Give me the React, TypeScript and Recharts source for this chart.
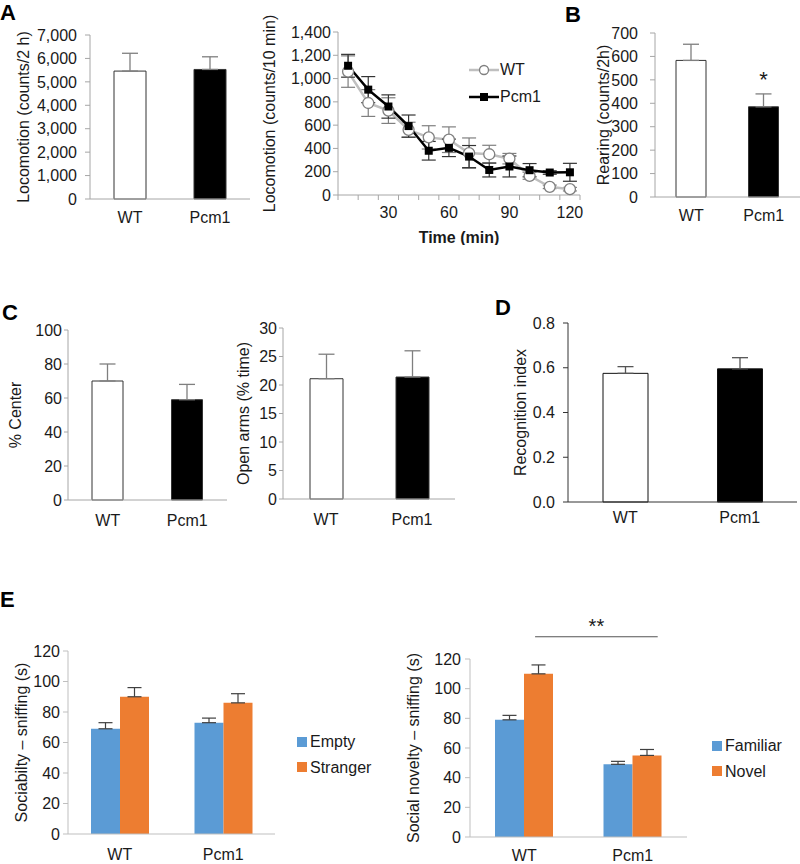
import {
  Bar,
  BarChart,
  Cell,
  ErrorBar,
  LabelList,
  Legend,
  Line,
  LineChart,
  ReferenceLine,
  XAxis,
  YAxis,
} from "recharts";

const FONT = "'Liberation Sans', Arial, Helvetica, sans-serif";
const INK = "#1a1a1a";

const groups = ["WT", "Pcm1"];
const groupFills = ["#ffffff", "#000000"];

// A – total locomotion
const locoTotal = [5460, 5530];
const locoTotalErr = [760, 540];
const locoTotalTicks = [0, 1000, 2000, 3000, 4000, 5000, 6000, 7000];

// A – locomotion per 10 min bin
const minutes = [10, 20, 30, 40, 50, 60, 70, 80, 90, 100, 110, 120];
const locoWT = [1060, 790, 725, 560, 495, 475, 360, 350, 312, 165, 70, 50];
const locoWTErr = [135, 115, 110, 65, 100, 110, 130, 77, 45, 30, 15, 15];
const locoPcm1 = [1110, 905, 760, 592, 380, 405, 330, 215, 245, 213, 193, 195];
const locoPcm1Err = [98, 112, 100, 95, 80, 75, 95, 60, 90, 57, 15, 77];
const minuteBounds = [5, 15, 25, 35, 45, 55, 65, 75, 85, 95, 105, 115, 125];
const minuteLabels = [30, 60, 90, 120];
const locoBinTicks = [0, 200, 400, 600, 800, 1000, 1200, 1400];
const lineSeriesOrder = ["WT", "Pcm1"];

// B – rearing
const rearing = [583, 385];
const rearingErr = [69, 55];
const rearingSig = ["", "*"];
const rearingTicks = [0, 100, 200, 300, 400, 500, 600, 700];

// C – open field centre / elevated plus maze
const centerPct = [70, 59];
const centerPctErr = [10, 9];
const centerTicks = [0, 20, 40, 60, 80, 100];
const openArms = [21.1, 21.4];
const openArmsErr = [4.3, 4.6];
const openArmsTicks = [0, 5, 10, 15, 20, 25, 30];

// D – novel object recognition
const recognition = [0.575, 0.595];
const recognitionErr = [0.03, 0.05];
const recognitionTicks = [0, 0.2, 0.4, 0.6, 0.8];

// E – three chamber test
const sniffTicks = [0, 20, 40, 60, 80, 100, 120];
const emptyCup = [69, 73];
const emptyCupErr = [4, 3];
const stranger = [90, 86];
const strangerErr = [6, 6];
const familiar = [79, 49];
const familiarErr = [3, 2];
const novel = [110, 55];
const novelErr = [6, 4];
const groupSlots = [0.5, 1.5];
const noveltyBracket = [0.6, 1.73];
const noveltyBracketLevel = 135;
const noveltyStars = "**";

const BLUE = "#5b9bd5";
const ORANGE = "#ed7d31";

type Frame = {
  left: number;
  top: number;
  width: number;
  height: number;
  mt: number;
  mr: number;
  yW: number;
  xH: number;
  tickSize: number;
  tickGap: number;
  xGap: number;
  titleX: number;
  axis: string;
};

const thousands = (v: number) => v.toLocaleString("en-US");
const oneDecimal = (v: number) => v.toFixed(1);
const plain = (v: number) => String(v);

function axisTitle(text: string, dx: number) {
  return (props: any) => {
    const vb = props.viewBox || { x: 0, y: 0, height: 0 };
    const x = vb.x + dx;
    const y = vb.y + vb.height / 2;
    return (
      <text
        x={x}
        y={y}
        transform={`rotate(-90 ${x} ${y})`}
        textAnchor="middle"
        dominantBaseline="central"
        fontSize={16}
        fill={INK}
      >
        {text}
      </text>
    );
  };
}

function placed(f: Frame): React.CSSProperties {
  return { position: "absolute", left: f.left, top: f.top };
}

function PanelLetter({ ch, left, top }: { ch: string; left: number; top: number }) {
  return (
    <div
      style={{
        position: "absolute",
        left,
        top,
        fontSize: 22,
        fontWeight: "bold",
        lineHeight: 1,
        color: "#000",
      }}
    >
      {ch}
    </div>
  );
}

interface GroupBarsProps {
  frame: Frame;
  values: number[];
  errors: number[];
  ticks: number[];
  fmt: (v: number) => string;
  title: string;
  barSize: number;
  outline: string;
  errColor: string;
  sig?: string[];
}

function GroupBars({
  frame,
  values,
  errors,
  ticks,
  fmt,
  title,
  barSize,
  outline,
  errColor,
  sig,
}: GroupBarsProps) {
  const rows = groups.map((g, i) => ({
    name: g,
    value: values[i],
    err: [0, errors[i]],
    sig: sig ? sig[i] : "",
  }));

  return (
    <div style={placed(frame)}>
      <BarChart
        width={frame.width}
        height={frame.height}
        data={rows}
        margin={{ top: frame.mt, right: frame.mr, bottom: 0, left: 0 }}
      >
        <XAxis
          dataKey="name"
          height={frame.xH}
          axisLine={{ stroke: frame.axis }}
          tickLine={false}
          tickSize={6}
          tickMargin={frame.xGap}
          tick={{ fill: INK, fontSize: 16 }}
        />
        <YAxis
          width={frame.yW}
          domain={[ticks[0], ticks[ticks.length - 1]]}
          ticks={ticks}
          interval={0}
          tickFormatter={fmt}
          axisLine={{ stroke: frame.axis }}
          tickLine={{ stroke: frame.axis }}
          tickSize={frame.tickSize}
          tickMargin={frame.tickGap}
          tick={{ fill: INK, fontSize: 16 }}
          label={{ content: axisTitle(title, frame.titleX) }}
        />
        <Bar
          dataKey="value"
          barSize={barSize}
          stroke={outline}
          strokeWidth={1}
          isAnimationActive={false}
        >
          {rows.map((r, i) => (
            <Cell key={r.name} fill={groupFills[i]} />
          ))}
          <ErrorBar dataKey="err" width={8} stroke={errColor} strokeWidth={1.3} />
          {sig && (
            <LabelList dataKey="sig" position="top" offset={20} fontSize={22} fill={INK} />
          )}
        </Bar>
      </BarChart>
    </div>
  );
}

function SquareLegend({ payload }: any) {
  return (
    <div style={{ fontSize: 16, color: INK, lineHeight: "25.5px" }}>
      {(payload || []).map((e: any) => (
        <div key={e.value} style={{ display: "flex", alignItems: "center" }}>
          <span
            style={{ width: 10, height: 10, background: e.color, marginRight: 3, display: "inline-block" }}
          />
          <span>{e.value}</span>
        </div>
      ))}
    </div>
  );
}

interface PairedBarsProps {
  frame: Frame;
  names: [string, string];
  first: number[];
  firstErr: number[];
  second: number[];
  secondErr: number[];
  title: string;
  legendAt: { left: number; top: number };
  bracket?: boolean;
}

function PairedBars({
  frame,
  names,
  first,
  firstErr,
  second,
  secondErr,
  title,
  legendAt,
  bracket,
}: PairedBarsProps) {
  const rows = groups.map((g, i) => ({
    name: g,
    slot: groupSlots[i],
    a: first[i],
    aErr: [0, firstErr[i]],
    b: second[i],
    bErr: [0, secondErr[i]],
  }));

  return (
    <div style={placed(frame)}>
      <BarChart
        width={frame.width}
        height={frame.height}
        data={rows}
        barGap={0}
        margin={{ top: frame.mt, right: frame.mr, bottom: 0, left: 0 }}
      >
        <XAxis
          dataKey="name"
          height={frame.xH}
          axisLine={{ stroke: frame.axis }}
          tickLine={false}
          tickSize={6}
          tickMargin={frame.xGap}
          tick={{ fill: INK, fontSize: 16 }}
        />
        {bracket && (
          <XAxis
            xAxisId="pos"
            dataKey="slot"
            type="number"
            domain={[0, 2]}
            allowDataOverflow
            hide
          />
        )}
        <YAxis
          width={frame.yW}
          domain={[0, 120]}
          ticks={sniffTicks}
          interval={0}
          axisLine={{ stroke: frame.axis }}
          tickLine={{ stroke: frame.axis }}
          tickSize={frame.tickSize}
          tickMargin={frame.tickGap}
          tick={{ fill: INK, fontSize: 16 }}
          label={{ content: axisTitle(title, frame.titleX) }}
        />
        <Legend
          layout="vertical"
          align="center"
          verticalAlign="middle"
          wrapperStyle={{ left: legendAt.left, top: legendAt.top, width: "auto" }}
          content={SquareLegend}
        />
        <Bar dataKey="a" name={names[0]} fill={BLUE} barSize={29} isAnimationActive={false}>
          <ErrorBar dataKey="aErr" width={7} stroke="#404040" strokeWidth={1.2} />
        </Bar>
        <Bar dataKey="b" name={names[1]} fill={ORANGE} barSize={29} isAnimationActive={false}>
          <ErrorBar dataKey="bErr" width={7} stroke="#404040" strokeWidth={1.2} />
        </Bar>
        {bracket && (
          <ReferenceLine
            xAxisId="pos"
            segment={[
              { x: noveltyBracket[0], y: noveltyBracketLevel },
              { x: noveltyBracket[1], y: noveltyBracketLevel },
            ]}
            stroke="#555"
            strokeWidth={1}
            ifOverflow="visible"
            label={{ value: noveltyStars, position: "top", offset: 4, fontSize: 20, fill: INK }}
          />
        )}
      </BarChart>
    </div>
  );
}

const locoBinFrame: Frame = {
  left: 250, top: 0, width: 340, height: 245, mt: 32, mr: 10, yW: 88, xH: 50,
  tickSize: 5, tickGap: 2, xGap: 7, titleX: 19, axis: "#a6a6a6",
};
const LOCO_PLOT_W = locoBinFrame.width - locoBinFrame.yW - locoBinFrame.mr;

function MinuteTick({ x, y, payload }: any) {
  const label = payload.value + 5;
  if (!minuteLabels.includes(label)) return <g />;
  const step = LOCO_PLOT_W / minutes.length;
  return (
    <text x={x + step / 2} y={y} dy="0.71em" textAnchor="middle" fontSize={16} fill={INK}>
      {label}
    </text>
  );
}

function LineLegend({ payload }: any) {
  const items = [...(payload || [])].sort(
    (p: any, q: any) => lineSeriesOrder.indexOf(p.value) - lineSeriesOrder.indexOf(q.value)
  );
  return (
    <div style={{ fontSize: 16, color: INK, lineHeight: "27px" }}>
      {items.map((e: any) => (
        <div key={e.value} style={{ display: "flex", alignItems: "center" }}>
          <svg width={30} height={12}>
            <line x1={0} x2={30} y1={6} y2={6} stroke={e.color} strokeWidth={2.5} />
            {e.value === "WT" ? (
              <circle cx={15} cy={6} r={4.5} fill="#fff" stroke="#7f7f7f" strokeWidth={1.3} />
            ) : (
              <rect x={11} y={2} width={8} height={8} fill="#000" />
            )}
          </svg>
          <span style={{ marginLeft: 1 }}>{e.value}</span>
        </div>
      ))}
    </div>
  );
}

const WtDot = (p: any) => (
  <circle key={`wt-${p.index}`} cx={p.cx} cy={p.cy} r={5.5} fill="#fff" stroke="#7f7f7f" strokeWidth={1.3} />
);
const PcmDot = (p: any) => (
  <rect key={`pc-${p.index}`} x={p.cx - 4} y={p.cy - 4} width={8} height={8} fill="#000" />
);

function LocomotionTimeCourse() {
  const f = locoBinFrame;
  const rows = minutes.map((m, i) => ({
    t: m,
    wt: locoWT[i],
    wtErr: locoWTErr[i],
    pcm1: locoPcm1[i],
    pcm1Err: locoPcm1Err[i],
  }));

  return (
    <div style={placed(f)}>
      <LineChart
        width={f.width}
        height={f.height}
        data={rows}
        margin={{ top: f.mt, right: f.mr, bottom: 0, left: 0 }}
      >
        <XAxis
          dataKey="t"
          type="number"
          domain={[minuteBounds[0], minuteBounds[minuteBounds.length - 1]]}
          ticks={minuteBounds}
          interval={0}
          height={f.xH}
          axisLine={{ stroke: f.axis }}
          tickLine={{ stroke: f.axis }}
          tickSize={5}
          tickMargin={f.xGap}
          tick={MinuteTick}
          label={{ value: "Time (min)", position: "insideBottom", offset: 2, fontSize: 16, fontWeight: "bold", fill: INK }}
        />
        <YAxis
          width={f.yW}
          domain={[0, 1400]}
          ticks={locoBinTicks}
          interval={0}
          tickFormatter={thousands}
          axisLine={{ stroke: f.axis }}
          tickLine={{ stroke: f.axis }}
          tickSize={f.tickSize}
          tickMargin={f.tickGap}
          tick={{ fill: INK, fontSize: 16 }}
          label={{ content: axisTitle("Locomotion (counts/10 min)", f.titleX) }}
        />
        <Legend
          layout="vertical"
          align="center"
          verticalAlign="middle"
          wrapperStyle={{ left: 219, top: 56, width: "auto" }}
          content={LineLegend}
        />
        <Line
          dataKey="wt"
          name="WT"
          stroke="#bfbfbf"
          strokeWidth={2.5}
          dot={WtDot}
          activeDot={false}
          isAnimationActive={false}
        >
          <ErrorBar dataKey="wtErr" width={7} stroke="#7f7f7f" strokeWidth={1.2} />
        </Line>
        <Line
          dataKey="pcm1"
          name="Pcm1"
          stroke="#000"
          strokeWidth={2.5}
          dot={PcmDot}
          activeDot={false}
          isAnimationActive={false}
        >
          <ErrorBar dataKey="pcm1Err" width={7} stroke="#333" strokeWidth={1.2} />
        </Line>
      </LineChart>
    </div>
  );
}

const locoTotalFrame: Frame = {
  left: 0, top: 0, width: 260, height: 230, mt: 35, mr: 10, yW: 90, xH: 31,
  tickSize: 5, tickGap: 8, xGap: 7, titleX: 23, axis: "#a6a6a6",
};
const rearingFrame: Frame = {
  left: 540, top: 0, width: 260, height: 230, mt: 33, mr: 0, yW: 115, xH: 33,
  tickSize: 5, tickGap: 12, xGap: 7, titleX: 63, axis: "#a6a6a6",
};
const centerFrame: Frame = {
  left: 0, top: 270, width: 240, height: 260, mt: 60, mr: 13, yW: 68, xH: 30,
  tickSize: 4, tickGap: 2, xGap: 9, titleX: 15, axis: "#a6a6a6",
};
const openArmsFrame: Frame = {
  left: 200, top: 270, width: 260, height: 260, mt: 58, mr: 5, yW: 83, xH: 31,
  tickSize: 4, tickGap: 2, xGap: 9, titleX: 43, axis: "#a6a6a6",
};
const recognitionFrame: Frame = {
  left: 470, top: 270, width: 330, height: 262, mt: 53, mr: 3, yW: 98, xH: 30,
  tickSize: 5, tickGap: 8, xGap: 4, titleX: 50, axis: "#333",
};
const socialFrame: Frame = {
  left: 0, top: 600, width: 400, height: 264, mt: 51, mr: 125, yW: 68, xH: 30,
  tickSize: 5, tickGap: 3, xGap: 9, titleX: 21, axis: "#bfbfbf",
};
const noveltyFrame: Frame = {
  left: 400, top: 600, width: 400, height: 264, mt: 59, mr: 113, yW: 70, xH: 27,
  tickSize: 5, tickGap: 4, xGap: 7, titleX: 13, axis: "#bfbfbf",
};

export default function App() {
  return (
    <div
      style={{
        position: "absolute",
        left: 0,
        top: 0,
        width: 800,
        height: 864,
        overflow: "hidden",
        background: "#fff",
        fontFamily: FONT,
      }}
    >
      <GroupBars
        frame={locoTotalFrame}
        values={locoTotal}
        errors={locoTotalErr}
        ticks={locoTotalTicks}
        fmt={thousands}
        title="Locomotion (counts/2 h)"
        barSize={32}
        outline="#333"
        errColor="#7f7f7f"
      />
      <LocomotionTimeCourse />
      <GroupBars
        frame={rearingFrame}
        values={rearing}
        errors={rearingErr}
        ticks={rearingTicks}
        fmt={plain}
        title="Rearing (counts/2h)"
        barSize={30}
        outline="#333"
        errColor="#7f7f7f"
        sig={rearingSig}
      />
      <GroupBars
        frame={centerFrame}
        values={centerPct}
        errors={centerPctErr}
        ticks={centerTicks}
        fmt={plain}
        title="% Center"
        barSize={31}
        outline="#333"
        errColor="#7f7f7f"
      />
      <GroupBars
        frame={openArmsFrame}
        values={openArms}
        errors={openArmsErr}
        ticks={openArmsTicks}
        fmt={plain}
        title="Open arms (% time)"
        barSize={33}
        outline="#333"
        errColor="#7f7f7f"
      />
      <GroupBars
        frame={recognitionFrame}
        values={recognition}
        errors={recognitionErr}
        ticks={recognitionTicks}
        fmt={oneDecimal}
        title="Recognition index"
        barSize={45}
        outline="#111"
        errColor="#555"
      />
      <PairedBars
        frame={socialFrame}
        names={["Empty", "Stranger"]}
        first={emptyCup}
        firstErr={emptyCupErr}
        second={stranger}
        secondErr={strangerErr}
        title="Sociabilty – sniffing (s)"
        legendAt={{ left: 297, top: 129 }}
      />
      <PairedBars
        frame={noveltyFrame}
        names={["Familiar", "Novel"]}
        first={familiar}
        firstErr={familiarErr}
        second={novel}
        secondErr={novelErr}
        title="Social novelty – sniffing (s)"
        legendAt={{ left: 312, top: 133 }}
        bracket
      />
      <PanelLetter ch="A" left={0} top={2} />
      <PanelLetter ch="B" left={565} top={4} />
      <PanelLetter ch="C" left={2} top={302} />
      <PanelLetter ch="D" left={495} top={297} />
      <PanelLetter ch="E" left={0} top={589} />
    </div>
  );
}
